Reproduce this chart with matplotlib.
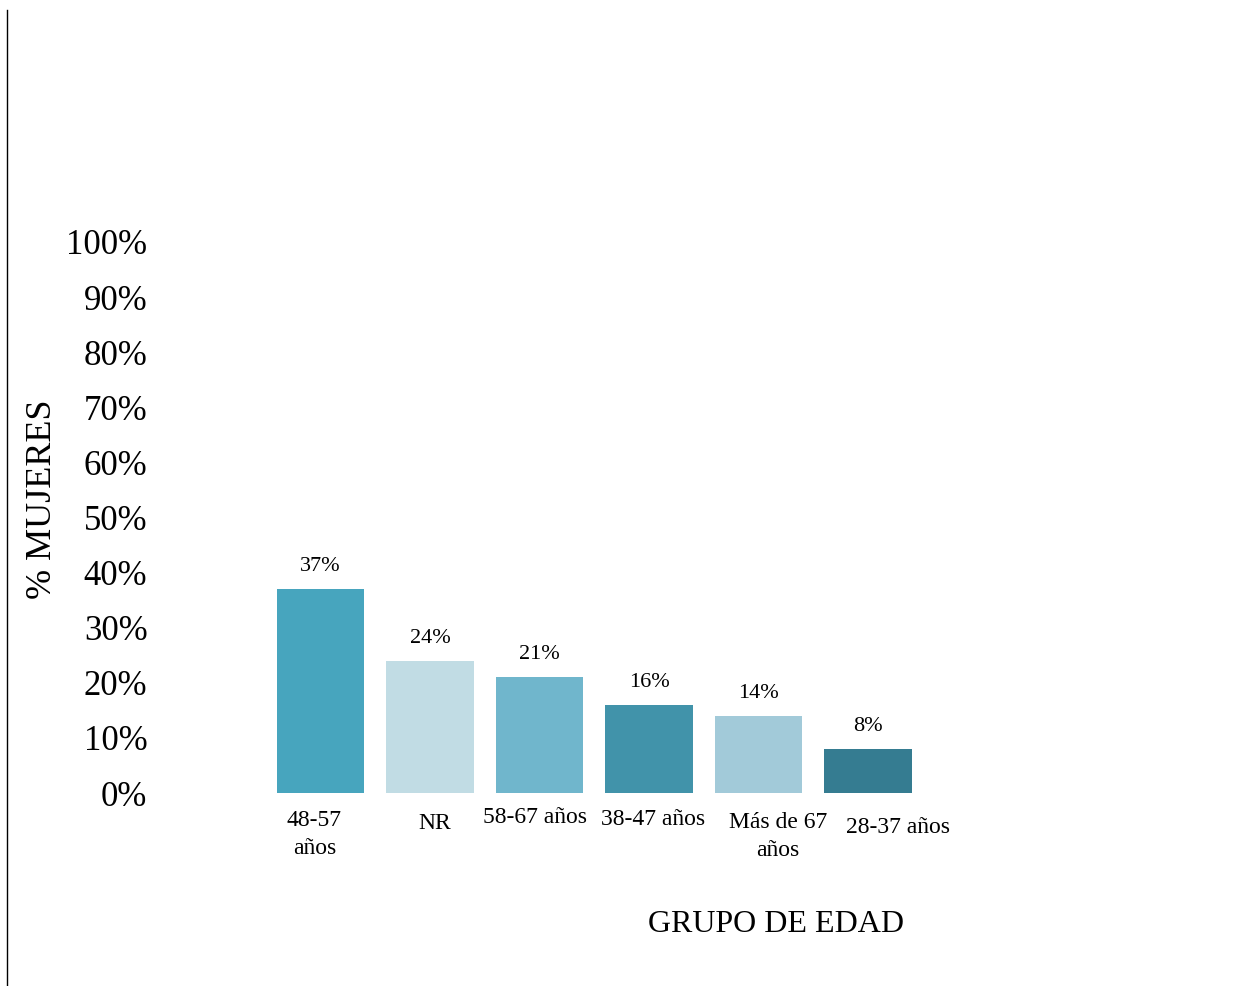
import matplotlib
matplotlib.use("Agg")
import matplotlib.pyplot as plt
from matplotlib.lines import Line2D

plt.rcParams['font.family'] = ['Liberation Serif', 'DejaVu Serif']

categories = ["48-57\naños", "NR", "58-67 años", "38-47 años", "Más de 67\naños", "28-37 años"]
values = [37, 24, 21, 16, 14, 8]
colors = ["#47A5BE", "#C1DCE4", "#70B6CC", "#4193AA", "#A2CAD9", "#357C91"]
yticks = [0, 10, 20, 30, 40, 50, 60, 70, 80, 90, 100]

# label nudges (as in the original layout)
label_dx = [-0.055, 0.046, -0.037, 0.037, 0.18, 0.27]
label_y = [-7.5, -5.5, -4.4, -4.9, -7.9, -6.2]

W, H = 1233, 986
fig = plt.figure(figsize=(W / 100, H / 100), dpi=100)
ax = fig.add_axes([160 / W, (H - 793) / H, 860 / W, 551 / H])

x = list(range(len(values)))
ax.bar(x, values, width=0.8, color=colors)
ax.set_ylim(0, 100)
ax.set_xlim((160 - 320.5) / 109.5, (1020 - 320.5) / 109.5)

for i, v in enumerate(values):
    ax.text(i, v + 4.1, f"{v}%", ha='center', va='center', fontsize=16)

for i, lab in enumerate(categories):
    ax.text(i + label_dx[i], label_y[i], lab, ha='center', va='center',
            fontsize=17, linespacing=1.45, clip_on=False)

ax.set_yticks(yticks)
ax.set_yticklabels([f"{t}%" for t in yticks], fontsize=25)
ax.tick_params(axis='y', length=0, pad=9)
ax.set_xticks([])
for s in ax.spines.values():
    s.set_visible(False)

fig.text(43 / W, 1 - 499 / H, "% MUJERES", rotation=90, ha='center', va='center', fontsize=26)
fig.text(776 / W, 1 - 924 / H, "GRUPO DE EDAD", ha='center', va='center', fontsize=23)

fig.add_artist(Line2D([7 / W, 7 / W], [0, 1 - 10 / H], color='black', linewidth=1))

fig.savefig("out.png", dpi=100)
